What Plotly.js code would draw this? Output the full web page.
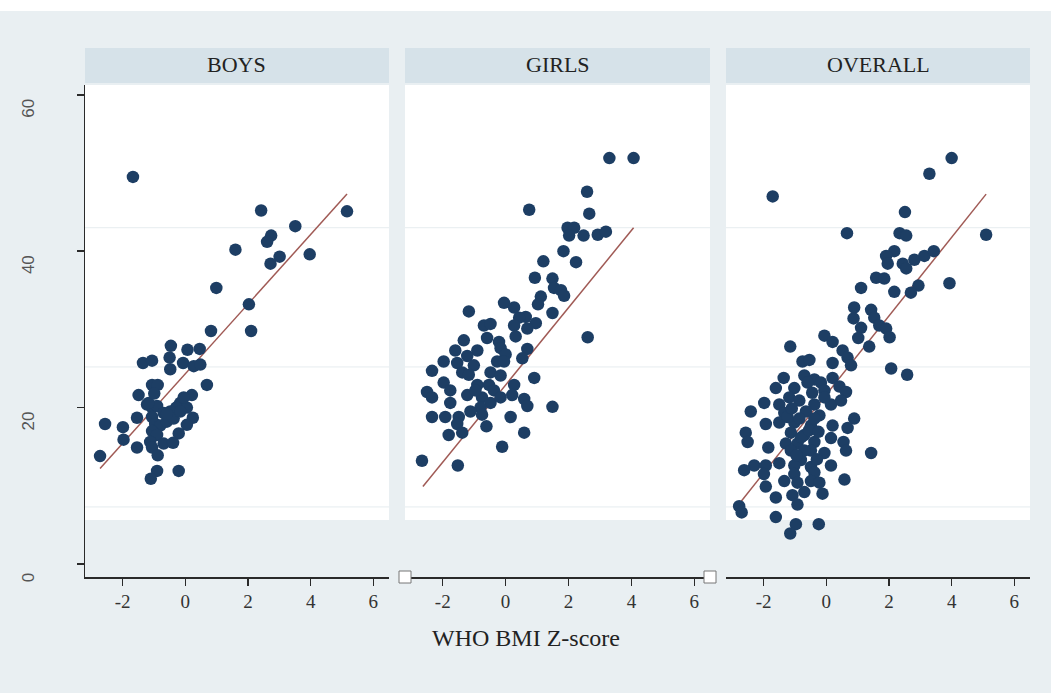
<!DOCTYPE html>
<html>
<head>
<meta charset="utf-8">
<script src="https://cdn.plot.ly/plotly-3.0.1.min.js"></script>
<style>html,body{margin:0;padding:0;background:#fff;}#chart{width:1051px;height:693px;}</style>
</head>
<body>
<div id="chart"></div>
<script>
// ---- data ----
const panelTitles = ["BOYS", "GIRLS", "OVERALL"];
const xTickVals = [-2, 0, 2, 4, 6];
const xTickText = ["-2", "0", "2", "4", "6"];
const yTickVals = [0, 20, 40, 60];
const yTickText = ["0", "20", "40", "60"];
const xAxisTitle = "WHO BMI Z-score";

const boysX = [-1.67,2.42,5.16,3.51,2.74,2.61,1.60,3.01,3.97,2.72,0.99,2.03,0.82,2.10,-0.46,0.07,0.46,-1.35,-1.06,-0.50,-0.07,0.27,0.48,-0.48,0.69,-1.06,-0.88,-1.49,0.21,-1.22,-1.06,-0.90,-0.16,-0.29,0.05,-0.48,-0.69,-1.54,0.24,-2.56,-1.99,-1.06,-0.96,-0.80,-0.59,-0.37,0.05,-1.06,-0.90,-1.97,-0.21,-1.12,-0.69,-0.39,-1.54,-1.06,-2.72,-0.88,-0.90,-0.21,-1.10,-1.17,-0.99,-0.59,-0.16,-0.05];
const boysY = [49.5,45.2,45.1,43.2,42.0,41.2,40.2,39.3,39.6,38.4,35.3,33.2,29.8,29.8,27.9,27.4,27.5,25.7,26.0,26.4,25.7,25.3,25.5,24.9,22.9,22.9,22.9,21.6,21.6,20.4,20.0,20.2,20.6,20.0,20.0,19.5,19.3,18.7,18.7,17.9,17.5,18.8,17.9,17.7,18.2,18.6,17.8,17.0,16.5,15.9,16.7,15.6,15.4,15.5,14.9,14.9,13.8,13.9,11.9,11.9,10.9,20.6,21.8,19.2,19.5,21.3];

const girlsX = [3.30,4.07,2.59,0.75,2.66,1.97,2.18,2.02,2.48,2.93,3.19,1.84,2.24,1.20,0.93,1.49,1.54,1.76,1.86,1.12,1.03,-0.05,0.27,-1.17,1.49,0.64,0.43,0.96,0.27,-0.69,-0.48,0.69,0.32,-0.59,-0.21,2.61,-1.33,-0.90,-1.60,-0.16,0.69,0.00,-1.22,-1.97,-1.54,0.53,-0.27,-2.34,-1.01,-1.38,-1.17,-0.48,-0.16,0.91,-1.97,-0.90,-0.53,0.27,-2.50,-1.76,-0.37,-2.34,-1.22,-0.75,0.21,0.59,-1.76,-0.48,1.49,0.69,-0.80,-1.12,-0.75,-2.34,-1.92,-1.49,0.16,-1.54,-0.61,-1.38,-1.81,0.59,-0.11,-2.66,-1.52,-0.16,-0.05,-0.96];
const girlsY = [51.9,51.9,47.6,45.3,44.8,43.0,43.0,42.0,42.0,42.1,42.5,40.0,38.6,38.7,36.6,36.5,35.3,35.0,34.3,34.2,33.2,33.4,32.8,32.3,32.1,31.6,31.5,30.8,30.5,30.5,30.7,30.1,29.1,28.9,28.4,29.0,28.6,27.3,27.3,27.6,27.5,26.8,26.6,25.9,25.7,26.3,25.9,24.7,25.4,24.5,24.2,24.5,24.1,23.8,23.2,22.9,22.9,22.9,22.0,22.2,22.2,21.3,21.6,21.3,21.6,21.1,20.6,20.6,20.1,20.2,20.0,19.5,19.1,18.8,18.8,18.8,18.8,17.9,17.6,16.8,16.5,16.8,15.0,13.2,12.6,21.3,25.9,22.2];

const overallX = [4.00,3.29,-1.71,2.51,0.66,5.10,2.34,2.55,2.17,1.91,1.96,2.44,2.55,2.81,3.13,3.43,3.93,1.11,1.59,1.85,2.17,2.94,2.70,0.89,0.87,1.43,1.53,1.69,1.91,1.11,2.02,1.02,-0.06,0.20,1.37,-1.15,0.52,0.68,-0.76,-0.54,0.20,0.79,2.07,2.58,-0.70,-1.36,-0.38,-0.17,0.20,-1.61,-1.02,-0.06,0.42,0.63,-1.98,-1.50,-1.18,-0.86,-0.38,0.15,0.47,-2.41,-1.34,-0.65,-0.22,0.89,-1.93,-1.50,-1.02,-0.49,0.20,0.68,-2.57,-1.13,-0.70,-2.51,-1.85,-1.29,-0.92,-0.38,0.15,0.55,0.63,1.43,-1.13,-0.49,-0.06,-0.81,-2.30,-1.93,-1.50,-1.02,-0.49,0.15,-2.62,-1.99,-1.02,-0.38,0.58,-1.93,-1.34,-0.92,-0.49,-0.22,-1.61,-1.08,-0.70,-0.12,-0.92,-2.78,-2.70,-1.61,-0.97,-0.24,-1.15,-0.86,-0.38,-0.70,-1.24,-0.06,-0.60,-0.80,-0.55,-0.30,-1.10,-0.45,-0.95,-0.25];
const overallY = [51.9,49.9,47.0,45.0,42.3,42.1,42.3,42.0,40.0,39.4,38.4,38.4,37.8,38.9,39.4,40.0,35.9,35.3,36.6,36.5,34.8,35.6,34.7,32.8,31.4,32.5,31.5,30.5,30.1,30.2,29.0,28.9,29.2,28.4,27.8,27.8,27.3,26.4,25.9,26.1,25.7,25.4,25.0,24.2,24.1,23.8,23.6,23.2,23.8,22.5,22.5,22.2,22.7,22.0,20.6,20.4,21.3,20.9,20.4,20.4,20.9,19.5,19.3,19.5,19.0,18.6,17.9,18.1,18.1,17.7,17.7,17.4,16.8,16.8,16.5,15.6,14.9,15.4,15.4,15.6,16.1,15.6,14.5,14.2,14.5,14.5,14.2,13.3,12.6,12.6,12.9,12.6,12.4,12.6,12.0,11.5,11.5,11.7,10.8,9.9,10.6,10.4,10.6,10.4,8.5,8.8,9.2,9.0,7.6,7.4,6.6,6.0,5.1,5.1,3.9,18.6,18.6,14.5,18.8,21.3,23.2,16.2,17.1,13.4,19.9,21.9,13.9,16.9];

// fitted-line end points
const boysFitX = [-2.72, 5.16], boysFitY = [12.2, 47.3];
const girlsFitX = [-2.63, 4.07], girlsFitY = [9.9, 43.0];
const overallFitX = [-2.72, 5.10], overallFitY = [8.0, 47.3];

// faint reference lines visible in the panels
const refLines = [43.0, 25.2, 7.3];

// ---- styling / layout ----
const W = 1051, H = 693;
const BG = '#e9eff2', STRIP = '#d6e2e9', DOT = '#1d3e64', FIT = '#a05a55';
const px = v => v / W, py = v => 1 - v / H;
const xDomains = [[px(85), px(389)], [px(405), px(710)], [px(726), px(1030)]];
const yDomain = [py(577), py(85)];
const xRange = [-3.2, 6.5], yRange = [-1.66, 61.25];

const seriesX = [boysX, girlsX, overallX], seriesY = [boysY, girlsY, overallY];
const fitX = [boysFitX, girlsFitX, overallFitX], fitY = [boysFitY, girlsFitY, overallFitY];

const traces = [];
const layout = {
  width: W, height: H,
  margin: {l: 0, r: 0, t: 0, b: 0},
  paper_bgcolor: BG, plot_bgcolor: BG,
  showlegend: false,
  shapes: [], annotations: []
};

for (let i = 0; i < 3; i++) {
  const s = i === 0 ? '' : String(i + 1);
  const xa = 'x' + s, ya = 'y' + s;
  traces.push({
    x: fitX[i], y: fitY[i], xaxis: xa, yaxis: ya, type: 'scatter', mode: 'lines',
    line: {color: FIT, width: 1.5}, hoverinfo: 'skip'
  });
  traces.push({
    x: seriesX[i], y: seriesY[i], xaxis: xa, yaxis: ya, type: 'scatter', mode: 'markers',
    marker: {color: DOT, size: 12.5, line: {width: 0}}
  });
  layout['xaxis' + s] = {
    domain: xDomains[i], anchor: ya, range: xRange,
    showgrid: false, zeroline: false, showline: true, linecolor: '#2a2a2a', linewidth: 1.5,
    ticks: 'outside', ticklen: 7, tickwidth: 1.5, tickcolor: '#2a2a2a',
    tickmode: 'array', tickvals: xTickVals, ticktext: xTickText,
    tickfont: {family: 'Liberation Serif, serif', size: 19, color: '#333'}
  };
  layout['yaxis' + s] = {
    domain: yDomain, anchor: xa, range: yRange,
    showgrid: false, zeroline: false,
    showline: i === 0, linecolor: '#2a2a2a', linewidth: 1.5,
    ticks: i === 0 ? 'outside' : '', ticklen: 7, tickwidth: 1.5, tickcolor: '#2a2a2a',
    tickmode: 'array', tickvals: yTickVals, ticktext: yTickText, showticklabels: i === 0,
    tickangle: -90, ticklabelstandoff: 36, ticklabelshift: 16,
    tickfont: {family: 'Liberation Sans, sans-serif', size: 17, color: '#555'}
  };
  // white plot region
  layout.shapes.push({type: 'rect', layer: 'below', xref: xa + ' domain', yref: 'paper',
    x0: 0, x1: 1, y0: py(520), y1: py(85), fillcolor: '#ffffff', line: {width: 0}});
  // faint reference lines
  refLines.forEach(v => layout.shapes.push({type: 'line', layer: 'below',
    xref: xa + ' domain', yref: ya, x0: 0, x1: 1, y0: v, y1: v,
    line: {color: '#e6ecef', width: 1}}));
  // header strip
  layout.shapes.push({type: 'rect', layer: 'below', xref: xa + ' domain', yref: 'paper',
    x0: 0, x1: 1, y0: py(83), y1: py(48), fillcolor: STRIP, line: {width: 0}});
  layout.annotations.push({text: panelTitles[i], xref: xa + ' domain', yref: 'paper',
    x: 0.5, y: py(65), showarrow: false, xanchor: 'center', yanchor: 'middle',
    font: {family: 'Liberation Serif, serif', size: 22, color: '#222'}});
}

// little open squares at the ends of the middle axis
[0, 1].forEach(xv => layout.shapes.push({type: 'rect', layer: 'above',
  xref: 'x2 domain', yref: 'y2 domain', xsizemode: 'pixel', ysizemode: 'pixel',
  xanchor: xv, yanchor: 0, x0: -6, x1: 6, y0: -6, y1: 6,
  fillcolor: '#ffffff', line: {color: '#777', width: 1}}));

// white band at very top
layout.shapes.push({type: 'rect', layer: 'below', xref: 'paper', yref: 'paper',
  x0: 0, x1: 1, y0: py(11), y1: 1, fillcolor: '#ffffff', line: {width: 0}});

layout.annotations.push({text: xAxisTitle, xref: 'paper', yref: 'paper',
  x: px(526), y: py(638), showarrow: false, xanchor: 'center', yanchor: 'middle',
  font: {family: 'Liberation Serif, serif', size: 24, color: '#222'}});

Plotly.newPlot('chart', traces, layout, {displayModeBar: false, staticPlot: true});
</script>
</body>
</html>
